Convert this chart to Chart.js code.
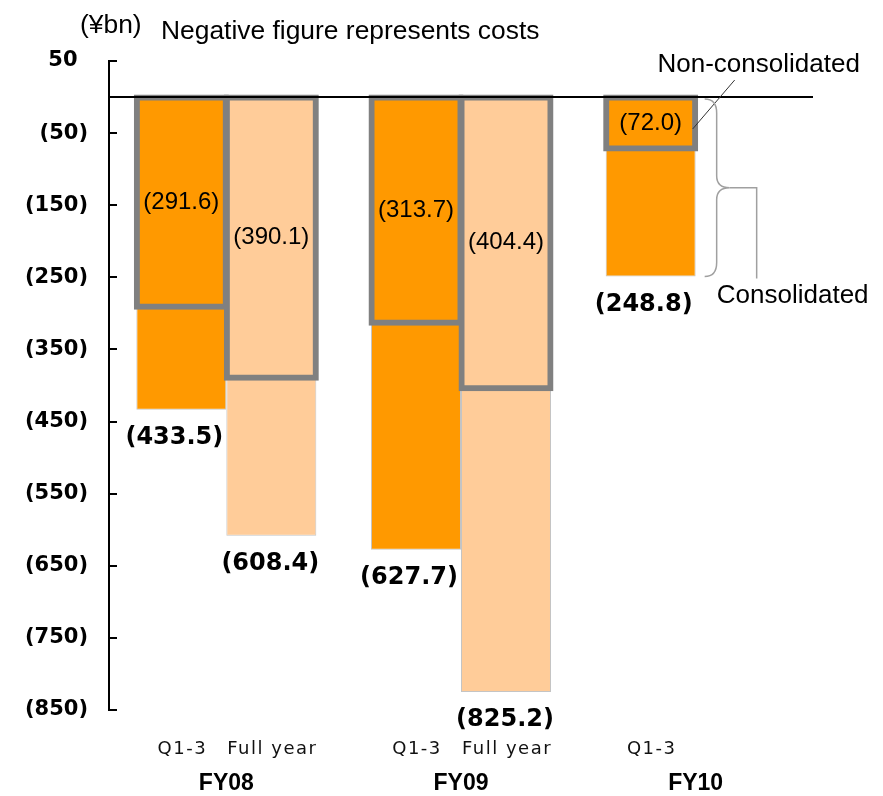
<!DOCTYPE html>
<html><head><meta charset="utf-8">
<script src="https://cdn.jsdelivr.net/npm/chart.js@4"></script>
<style>html,body{margin:0;padding:0;background:#fff}canvas{display:block}</style>
</head><body>
<canvas id="c" width="883" height="796"></canvas>
<script>
// ---- data ----
const fiscalYears = ["FY08", "FY09", "FY10"];
const periodLabels = ["Q1-3", "Full year"];
const consolidatedQ13 = [-433.5, -627.7, -248.8];
const consolidatedFull = [-608.4, -825.2, null];
const nonConsolidatedQ13 = [-291.6, -313.7, -72.0];
const nonConsolidatedFull = [-390.1, -404.4, null];
const yMin = -850, yMax = 50, yStep = 100;
const unitText = "(\u00a5bn)";
const noteText = "Negative figure represents costs";
const nonConsLabel = "Non-consolidated";
const consLabel = "Consolidated";

const ORANGE = "#FF9900", PEACH = "#FFCC99", GREY = "#808080";
const SANS = "'Liberation Sans', Arial, sans-serif";
const DV = "'DejaVu Sans', sans-serif";
const fmt = v => v < 0 ? "(" + Math.abs(v).toFixed(1) + ")" : v.toFixed(1);
const fmtTick = v => v < 0 ? "(" + Math.abs(v) + ")" : String(v) + "\u2002";

const overlay = {
  id: "overlay",
  afterDatasetsDraw(chart) {
    const ctx = chart.ctx, ca = chart.chartArea, y = chart.scales.y;
    const y0 = y.getPixelForValue(0);
    ctx.save();
    // zero line
    ctx.strokeStyle = "#000"; ctx.lineWidth = 2;
    ctx.beginPath(); ctx.moveTo(ca.left, y0); ctx.lineTo(ca.right, y0); ctx.stroke();
    // inward tick marks
    y.ticks.forEach(t => {
      const py = Math.round(y.getPixelForValue(t.value));
      ctx.beginPath(); ctx.moveTo(ca.left, py); ctx.lineTo(ca.left + 8, py); ctx.stroke();
    });
    // value labels
    ctx.fillStyle = "#000"; ctx.textAlign = "center"; ctx.textBaseline = "middle";
    [0, 1].forEach(di => {
      const meta = chart.getDatasetMeta(di);
      const data = chart.data.datasets[di].data;
      ctx.font = "24px " + SANS;
      meta.data.forEach((el, i) => {
        if (data[i] == null) return;
        ctx.fillText(fmt(data[i]), el.x, (el.y + el.base) / 2);
      });
    });
    [2, 3].forEach(di => {
      const meta = chart.getDatasetMeta(di);
      const data = chart.data.datasets[di].data;
      meta.data.forEach((el, i) => {
        if (data[i] == null) return;
        ctx.font = "bold 24px " + DV;
        ctx.fillText(fmt(data[i]), el.x - (di === 2 ? 7 : 1), el.y + 28);
        // period sub-labels under each bar
        ctx.save();
        ctx.font = "18px " + DV; ctx.fillStyle = "#111";
        ctx.letterSpacing = "1.5px";
        ctx.fillText(periodLabels[di - 2], el.x + 1, ca.bottom + 39.5);
        ctx.restore();
      });
    });
    // header texts
    ctx.textAlign = "left"; ctx.textBaseline = "alphabetic"; ctx.fillStyle = "#000";
    ctx.font = "26.4px " + SANS;
    ctx.fillText(unitText, 80, 33);
    ctx.fillText(noteText, 161, 38.5);

    // annotations anchored on the FY10 bars
    const nc = chart.getDatasetMeta(0).data[2];
    const cb = chart.getDatasetMeta(2).data[2];
    const right = cb.x + cb.width / 2;
    // Non-consolidated callout
    ctx.strokeStyle = "#333"; ctx.lineWidth = 1;
    ctx.beginPath(); ctx.moveTo(right - 3, nc.y - 20); ctx.lineTo(right + 39, y0 - 17); ctx.stroke();
    ctx.textAlign = "center"; ctx.textBaseline = "middle";
    ctx.font = "26px " + SANS;
    ctx.fillText(nonConsLabel, right + 63, 65);
    // Consolidated brace
    const top = y0 + 2, bot = cb.y, mid = (top + bot) / 2;
    const bx0 = right + 9, bx1 = right + 21, bx2 = right + 34;
    ctx.strokeStyle = "#a0a0a0"; ctx.lineWidth = 1.5;
    ctx.beginPath();
    ctx.moveTo(bx0, top);
    ctx.quadraticCurveTo(bx1, top, bx1, top + 14);
    ctx.lineTo(bx1, mid - 12);
    ctx.quadraticCurveTo(bx1, mid, bx2, mid);
    ctx.quadraticCurveTo(bx1, mid, bx1, mid + 12);
    ctx.lineTo(bx1, bot - 14);
    ctx.quadraticCurveTo(bx1, bot, bx0, bot);
    ctx.stroke();
    ctx.beginPath();
    ctx.moveTo(bx2, mid); ctx.lineTo(right + 61, mid); ctx.lineTo(right + 61, bot + 2);
    ctx.stroke();
    ctx.fillStyle = "#000";
    ctx.fillText(consLabel, right + 97, bot + 19);
    ctx.restore();
  }
};

new Chart(document.getElementById("c"), {
  type: "bar",
  data: {
    labels: fiscalYears,
    datasets: [
      { label: "Non-consolidated Q1-3", data: nonConsolidatedQ13, stack: "Q", order: 0,
        backgroundColor: "rgba(0,0,0,0)", borderColor: GREY, borderWidth: 1, inflateAmount: 2.5, borderSkipped: false },
      { label: "Non-consolidated Full year", data: nonConsolidatedFull, stack: "F", order: 0,
        backgroundColor: "rgba(0,0,0,0)", borderColor: GREY, borderWidth: 1, inflateAmount: 2.5, borderSkipped: false },
      { label: "Consolidated Q1-3", data: consolidatedQ13, stack: "Q", order: 1,
        backgroundColor: ORANGE, borderColor: "#C4C4C4", borderWidth: 1, borderSkipped: "start" },
      { label: "Consolidated Full year", data: consolidatedFull, stack: "F", order: 1,
        backgroundColor: PEACH, borderColor: "#C4C4C4", borderWidth: 1, borderSkipped: "start" }
    ]
  },
  options: {
    responsive: false, animation: false, devicePixelRatio: 1,
    layout: { padding: { top: 61, right: 70, bottom: 0, left: 0 } },
    datasets: { bar: { categoryPercentage: 0.767, barPercentage: 1 } },
    plugins: { legend: { display: false }, tooltip: { enabled: false } },
    scales: {
      x: {
        stacked: true,
        grid: { display: false, drawTicks: false },
        border: { display: false },
        ticks: { color: "#000", font: { family: SANS, size: 23, weight: "bold" }, padding: 60, maxRotation: 0 },
        afterFit: s => { s.height = 86; }
      },
      y: {
        stacked: false, min: yMin, max: yMax,
        grid: { display: false, drawTicks: false },
        border: { display: true, color: "#000", width: 2 },
        ticks: { stepSize: yStep, color: "#000", padding: 21,
          font: { family: DV, size: 21, weight: "bold" },
          callback: v => fmtTick(v) },
        afterFit: s => { s.width = 109; }
      }
    }
  },
  plugins: [overlay]
});
</script>
</body></html>
